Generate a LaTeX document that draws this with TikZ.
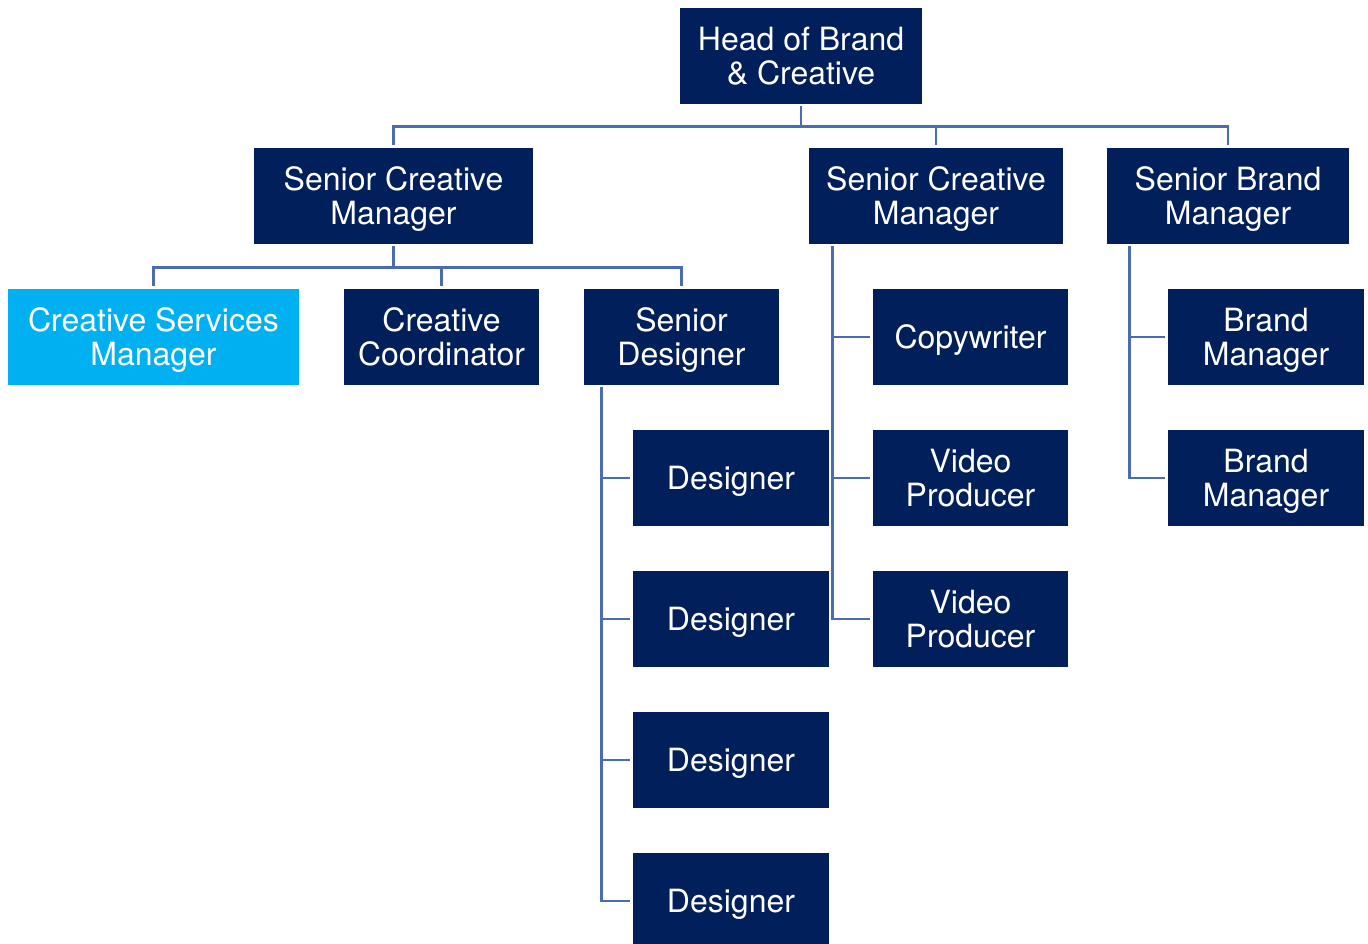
\documentclass[tikz,border=0pt]{standalone}
\usepackage{fontspec}
\setmainfont{TeX Gyre Heros}
\usetikzlibrary{calc}

\definecolor{navy}{HTML}{001F5B}
\definecolor{skyblue}{HTML}{00B0F0}
\definecolor{linkblue}{HTML}{4A6CB3}

\begin{document}
\begin{tikzpicture}[x=0.5pt,y=-0.5pt,
role/.style={rectangle, fill=navy, text=white, inner sep=0pt, minimum height=48pt,
  text depth=0pt, align=center, font=\fontsize{16}{17}\selectfont},
lead/.style={role, fill=skyblue},
edge/.style={draw=linkblue, line width=1.4pt, shorten <=1pt, shorten >=1.5pt}]

%% local variables
\def \top {337}
\def \vm {141}

\useasboundingbox (0,0) rectangle (1368,943);

%% head and second level
\node[role, minimum width=121pt] (head) at (801,56) {Head of Brand\\\& Creative};
\node[role, minimum width=139.5pt] (scm-1) at (393.5,196) {Senior Creative\\Manager};
\node[role, minimum width=127pt] (scm-2) at (936,196) {Senior Creative\\Manager};
\node[role, minimum width=121pt] (sbm) at (1228,196) {Senior Brand\\Manager};

%% team of the first creative manager
\node[lead, minimum width=145.5pt] (csm) at (153.5,\top) {Creative Services\\Manager};
\node[role, minimum width=97.5pt] (cc) at (441.5,\top) {Creative\\Coordinator};
\node[role, minimum width=97.5pt] (sd) at (681.5,\top) {Senior\\Designer};

%% place all designers
\foreach \s in {1,...,4}
      \node[role, minimum width=98pt] (des-\s) at (731,{\top + \s * \vm}) {Designer};

%% team of the second creative manager
\node[role, minimum width=97.5pt] (copy) at (970.5,\top) {Copywriter};
\foreach \s in {1,2}
      \node[role, minimum width=97.5pt] (vp-\s) at (970.5,{\top + \s * \vm}) {Video\\Producer};

%% team of the brand manager
\foreach \s in {1,2}
      \node[role, minimum width=98pt] (bm-\s) at (1266,{\top + (\s - 1) * \vm}) {Brand\\Manager};

%% place all edges
\foreach \c in {scm-1, scm-2, sbm}
      \draw[edge] (head.south) -- ++(0,22) -| (\c.north);
\foreach \c in {csm, cc, sd}
      \draw[edge] (scm-1.south) -- ++(0,23) -| (\c.north);
\foreach \s in {1,...,4}
      \draw[edge] ($(sd.south west)+(18,0)$) |- (des-\s.west);
\foreach \c in {copy, vp-1, vp-2}
      \draw[edge] ($(scm-2.south west)+(24,0)$) |- (\c.west);
\foreach \s in {1,2}
      \draw[edge] ($(sbm.south west)+(23,0)$) |- (bm-\s.west);

\end{tikzpicture}
\end{document}
